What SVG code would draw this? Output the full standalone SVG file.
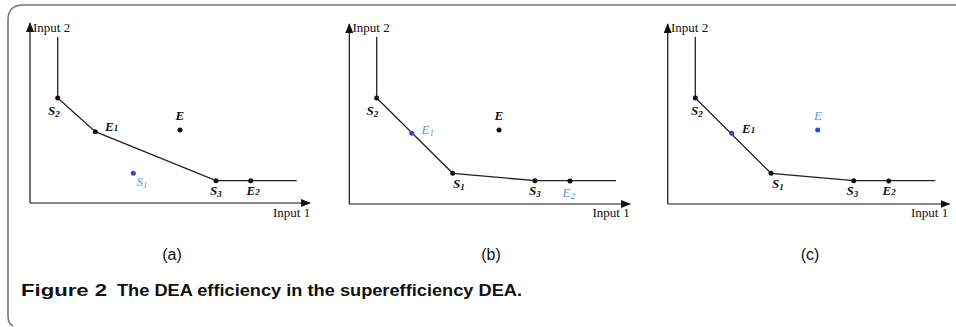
<svg xmlns="http://www.w3.org/2000/svg" width="956" height="327" viewBox="0 0 956 327">
<defs>
<marker id="arr" markerWidth="10" markerHeight="8" refX="9" refY="4" orient="auto" markerUnits="userSpaceOnUse">
<path d="M0,0 L10,4 L0,8 Z" fill="#111"/>
</marker>
<style>
.ax{stroke:#111;stroke-width:1.2;fill:none}
.fr{stroke:#222;stroke-width:1.3;fill:none}
.pt{fill:#111}
.bp{fill:#3344dd}
.ax-t{font-family:"Liberation Serif",serif;font-size:13px;fill:#111}
.lb{font-family:"Liberation Serif",serif;font-size:13px;font-style:italic;font-weight:bold;fill:#111}
.bl{font-family:"Liberation Serif",serif;font-size:13px;font-style:italic;fill:#5b9bd5}
.sub{font-size:9px}
.cap{font-family:"Liberation Sans Narrow","Liberation Sans",sans-serif;font-size:16px;fill:#111}
.fig{font-family:"Liberation Sans Narrow","Liberation Sans",sans-serif;font-size:17px;font-weight:bold;fill:#111}
</style>
</defs>
<path d="M13,326 Q8,324 8,316 L8,20 Q8,5 23,5 L956,5" fill="none" stroke="#777" stroke-width="1.6"/>

<g id="panel-a">
<g id="axes-a">
<line class="ax" x1="30" y1="203" x2="30" y2="23" marker-end="url(#arr)"/>
<line class="ax" x1="30" y1="203" x2="310" y2="203" marker-end="url(#arr)"/>
<text class="ax-t" x="33" y="32">Input 2</text>
<text class="ax-t" x="273" y="217">Input 1</text>
</g>
<g id="frontier-a"><polyline class="fr" points="57.7,37 57.7,98 95.3,131.7 216,180.7 296.7,180.7"/></g>
<g id="a-S2"><circle class="pt" cx="57.7" cy="98" r="2.5"/><text class="lb" x="48" y="115">S<tspan class="sub" dy="2">2</tspan></text></g>
<g id="a-E1"><circle class="pt" cx="95.3" cy="131.7" r="2.5"/><text class="lb" x="105" y="131">E<tspan class="sub" dy="0">1</tspan></text></g>
<g id="a-E"><circle class="pt" cx="180" cy="130" r="2.5"/><text class="lb" x="175.5" y="120" font-size="15">E</text></g>
<g id="a-S1"><circle class="bp" cx="133.3" cy="173.3" r="2.5"/><text class="bl" x="136.5" y="186">S<tspan class="sub" dy="2">1</tspan></text></g>
<g id="a-S3"><circle class="pt" cx="216" cy="180.7" r="2.5"/><text class="lb" x="210" y="195">S<tspan class="sub" dy="2">3</tspan></text></g>
<g id="a-E2"><circle class="pt" cx="250.7" cy="180.7" r="2.5"/><text class="lb" x="246.5" y="195">E<tspan class="sub" dy="0">2</tspan></text></g>
<text class="cap" x="172" y="260" text-anchor="middle">(a)</text>
</g>

<g id="panel-b">
<g id="axes-b">
<line class="ax" x1="349.3" y1="204" x2="349.3" y2="24" marker-end="url(#arr)"/>
<line class="ax" x1="349.3" y1="204" x2="630" y2="204" marker-end="url(#arr)"/>
<text class="ax-t" x="352.5" y="32">Input 2</text>
<text class="ax-t" x="592.5" y="217">Input 1</text>
</g>
<g id="frontier-b"><polyline class="fr" points="376.7,37 376.7,98 452.7,173.3 535,180.7 616,180.7"/></g>
<g id="b-S2"><circle class="pt" cx="376.7" cy="98" r="2.5"/><text class="lb" x="366.5" y="115">S<tspan class="sub" dy="2">2</tspan></text></g>
<g id="b-E1"><circle class="bp" cx="411.7" cy="133.3" r="2.5"/><text class="bl" x="421.5" y="134">E<tspan class="sub" dy="2">1</tspan></text></g>
<g id="b-E"><circle class="pt" cx="499" cy="130" r="2.5"/><text class="lb" x="494.5" y="120" font-size="15">E</text></g>
<g id="b-S1"><circle class="pt" cx="452.7" cy="173.3" r="2.5"/><text class="lb" x="453" y="188">S<tspan class="sub" dy="2">1</tspan></text></g>
<g id="b-S3"><circle class="pt" cx="535" cy="180.7" r="2.5"/><text class="lb" x="529" y="195">S<tspan class="sub" dy="2">3</tspan></text></g>
<g id="b-E2"><circle class="pt" cx="570" cy="181" r="2.5"/><text class="bl" x="562.5" y="197">E<tspan class="sub" dy="2">2</tspan></text></g>
<text class="cap" x="491" y="260" text-anchor="middle">(b)</text>
</g>

<g id="panel-c">
<g id="axes-c">
<line class="ax" x1="667.7" y1="204" x2="667.7" y2="24" marker-end="url(#arr)"/>
<line class="ax" x1="667.7" y1="204" x2="949.5" y2="204" marker-end="url(#arr)"/>
<text class="ax-t" x="671" y="32">Input 2</text>
<text class="ax-t" x="911" y="217">Input 1</text>
</g>
<g id="frontier-c"><polyline class="fr" points="695.3,37 695.3,98 771,173.3 853.7,180.7 935.3,180.7"/></g>
<g id="c-S2"><circle class="pt" cx="695.3" cy="98" r="2.5"/><text class="lb" x="691" y="115">S<tspan class="sub" dy="2">2</tspan></text></g>
<g id="c-E1"><circle class="bp" cx="731.7" cy="133.3" r="2.5"/><text class="lb" x="742" y="133">E<tspan class="sub" dy="0">1</tspan></text></g>
<g id="c-E"><circle class="bp" cx="817.7" cy="130" r="2.5"/><text class="bl" x="814" y="120" font-size="12">E</text></g>
<g id="c-S1"><circle class="pt" cx="771" cy="173.3" r="2.5"/><text class="lb" x="772" y="188">S<tspan class="sub" dy="2">1</tspan></text></g>
<g id="c-S3"><circle class="pt" cx="853.7" cy="180.7" r="2.5"/><text class="lb" x="846.5" y="195">S<tspan class="sub" dy="2">3</tspan></text></g>
<g id="c-E2"><circle class="pt" cx="888.7" cy="181" r="2.5"/><text class="lb" x="882.5" y="195">E<tspan class="sub" dy="0">2</tspan></text></g>
<text class="cap" x="810" y="260" text-anchor="middle">(c)</text>
</g>

<text class="fig" y="296"><tspan x="21" textLength="86" lengthAdjust="spacingAndGlyphs">Figure 2</tspan><tspan x="117" textLength="405" lengthAdjust="spacingAndGlyphs">The DEA efficiency in the superefficiency DEA.</tspan></text>
</svg>
